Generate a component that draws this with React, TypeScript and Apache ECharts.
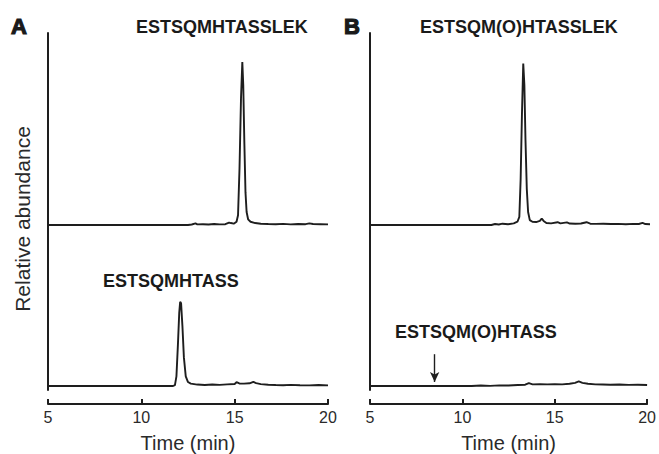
import React, { useEffect, useRef } from "react";
import * as echarts from "echarts";

// Time axis (min)
const timeMin = 5;
const timeMax = 20;
const timeStep = 5;

// Panel A, upper trace: ESTSQMHTASSLEK  [time, relative abundance]
const traceATop: number[][] = [
  [5, 0], [12.5, 0], [12.7, 0.3], [12.9, 1.0], [13.0, 0.4], [13.3, 0.5], [13.6, 0.3],
  [13.9, 0.6], [14.2, 0.4], [14.5, 0.5], [14.7, 1.5], [14.8, 1.2], [14.95, 0.8],
  [15.1, 2], [15.18, 6], [15.26, 35], [15.34, 78], [15.41, 100], [15.46, 86],
  [15.52, 50], [15.58, 20], [15.64, 8], [15.72, 3.5], [15.85, 2], [16.1, 1.2],
  [16.4, 0.8], [16.8, 0.6], [17.2, 0.5], [17.6, 0.7], [18.0, 0.4], [18.4, 0.6],
  [18.8, 0.5], [19.0, 1.0], [19.2, 0.6], [19.6, 0.5], [20, 0.4],
];

// Panel A, lower trace: ESTSQMHTASS
const traceABottom: number[][] = [
  [5, 0], [11.7, 0], [11.8, 0.6], [11.88, 6], [11.96, 26], [12.03, 46], [12.08, 53],
  [12.13, 52], [12.2, 38], [12.28, 18], [12.38, 6], [12.5, 2.5], [12.65, 1.5],
  [13.0, 0.9], [13.4, 0.6], [13.8, 0.9], [14.2, 0.7], [14.6, 1.0], [15.0, 1.3],
  [15.1, 2.4], [15.25, 1.6], [15.5, 1.5], [15.8, 1.7], [16.0, 2.6], [16.15, 1.8],
  [16.4, 1.2], [16.8, 0.8], [17.2, 0.6], [17.6, 0.5], [18.0, 0.7], [18.5, 0.5],
  [19.0, 0.4], [19.5, 0.6], [20, 0.4],
];

// Panel B, upper trace: ESTSQM(O)HTASSLEK
const traceBTop: number[][] = [
  [5, 0], [11.5, 0], [11.7, 0.6], [11.9, 0.3], [12.1, 0.8], [12.4, 0.5], [12.7, 1.0],
  [12.9, 2], [13.0, 5], [13.07, 28], [13.14, 68], [13.21, 99], [13.27, 86],
  [13.33, 52], [13.4, 22], [13.47, 8], [13.56, 3], [13.7, 2], [13.9, 1.8],
  [14.1, 2.5], [14.2, 4], [14.3, 2.5], [14.45, 1.2], [14.7, 1.0], [15.05, 1.7],
  [15.2, 1.0], [15.55, 1.6], [15.7, 0.9], [16.0, 0.8], [16.3, 0.9], [16.6, 1.7],
  [16.8, 0.8], [17.1, 0.7], [17.5, 0.8], [17.9, 0.6], [18.3, 0.7], [18.7, 0.5],
  [19.1, 0.7], [19.4, 0.6], [19.6, 1.3], [19.75, 0.6], [20, 0.5],
];

// Panel B, lower trace: ESTSQM(O)HTASS
const traceBBottom: number[][] = [
  [5, 0], [10.5, 0], [11, 0.3], [11.5, 0.1], [12, 0.4], [12.5, 0.3], [13, 0.6],
  [13.4, 0.8], [13.6, 1.8], [13.8, 1.0], [14.2, 1.1], [14.6, 1.0], [15.0, 1.2],
  [15.4, 1.0], [15.8, 1.4], [16.1, 2.0], [16.3, 2.9], [16.5, 2.0], [16.8, 1.4],
  [17.2, 1.0], [17.6, 0.9], [18, 0.8], [18.5, 0.9], [19, 0.7], [19.5, 0.8], [20, 0.6],
];

// Expected elution time of the missing peptide (arrow)
const arrowTime = 8.5;
const arrowFrom = 20;
const arrowTo = 2.5;

const panelLabels = ["A", "B"];
const peptideLabels = ["ESTSQMHTASSLEK", "ESTSQMHTASS", "ESTSQM(O)HTASSLEK", "ESTSQM(O)HTASS"];
const xAxisName = "Time (min)";
const yAxisName = "Relative abundance";

const INK = "#1e1e1e";
const FONT = "'Liberation Sans', Arial, Helvetica, sans-serif";

export default function App() {
  const ref = useRef<HTMLDivElement>(null);

  useEffect(() => {
    document.body.style.margin = "0";
    if (!ref.current) return;
    const chart = echarts.init(ref.current, null, { renderer: "svg" });

    const panelLeft = [48, 370];
    const plotW = 280;

    const grids: any[] = [];
    const xAxes: any[] = [];
    const yAxes: any[] = [];
    const series: any[] = [];

    const traces = [
      [traceATop, traceABottom],
      [traceBTop, traceBBottom],
    ];

    panelLeft.forEach((left, p) => {
      // frame grid (y axis line)
      const gFrame = grids.length;
      grids.push({ left, width: plotW, top: 33, height: 357 });
      xAxes.push({ gridIndex: gFrame, type: "value", min: timeMin, max: timeMax, show: false });
      yAxes.push({
        gridIndex: gFrame,
        type: "value",
        min: 0,
        max: 1,
        axisLine: { show: true, onZero: false, lineStyle: { color: INK, width: 2 } },
        axisTick: { show: false },
        axisLabel: { show: false },
        splitLine: { show: false },
        name: p === 0 ? yAxisName : "",
        nameLocation: "middle",
        nameGap: 15,
        nameTextStyle: { fontFamily: FONT, fontSize: 21, color: "#2a2a2a", padding: [0, 15, 0, 0] },
      });

      // top trace
      const gTop = grids.length;
      grids.push({ left, width: plotW, top: 62, height: 163 });
      xAxes.push({ gridIndex: gTop, type: "value", min: timeMin, max: timeMax, show: false });
      yAxes.push({ gridIndex: gTop, type: "value", min: 0, max: 100, show: false });
      series.push({
        type: "line",
        xAxisIndex: gTop,
        yAxisIndex: gTop,
        data: traces[p][0],
        showSymbol: false,
        symbol: "none",
        lineStyle: { color: INK, width: 1.9 },
      });

      // bottom trace with time axis
      const gBot = grids.length;
      grids.push({ left, width: plotW, top: 227, height: 163 });
      xAxes.push({
        gridIndex: gBot,
        type: "value",
        min: timeMin,
        max: timeMax,
        interval: timeStep,
        offset: 18,
        axisLine: { show: true, onZero: false, lineStyle: { color: INK, width: 2 } },
        axisTick: { show: true, inside: true, length: 5, lineStyle: { color: INK, width: 2 } },
        axisLabel: {
          show: true,
          fontFamily: FONT,
          fontSize: 16,
          color: "#2a2a2a",
          margin: 5,
          showMinLabel: true,
          showMaxLabel: true,
        },
        splitLine: { show: false },
        name: xAxisName,
        nameLocation: "middle",
        nameGap: 29,
        nameTextStyle: { fontFamily: FONT, fontSize: 20, color: "#2a2a2a" },
      });
      yAxes.push({ gridIndex: gBot, type: "value", min: 0, max: 100, show: false });
      const s: any = {
        type: "line",
        xAxisIndex: gBot,
        yAxisIndex: gBot,
        data: traces[p][1],
        showSymbol: false,
        symbol: "none",
        lineStyle: { color: INK, width: 1.9 },
      };
      if (p === 1) {
        s.markLine = {
          silent: true,
          symbol: ["none", "arrow"],
          symbolSize: [7, 10],
          label: { show: false },
          lineStyle: { color: INK, width: 1.4, type: "solid" },
          data: [[{ coord: [arrowTime, arrowFrom] }, { coord: [arrowTime, arrowTo] }]],
        };
      }
      series.push(s);
    });

    const textStyle = (size: number, weight: any) => ({
      fontFamily: FONT,
      fontSize: size,
      fontWeight: weight,
      fill: "#1a1a1a",
      verticalAlign: "middle",
      align: "left",
    });

    const heavy = { stroke: "#1a1a1a", lineWidth: 1.2 };

    const graphic: any[] = [
      { type: "text", x: 11, y: 26, style: { text: panelLabels[0], ...textStyle(22, "bold"), ...heavy } },
      { type: "text", x: 344, y: 26, style: { text: panelLabels[1], ...textStyle(22, "bold"), ...heavy } },
      { type: "text", x: 136, y: 27, style: { text: peptideLabels[0], ...textStyle(18, "bold") } },
      { type: "text", x: 103, y: 280.5, style: { text: peptideLabels[1], ...textStyle(18, "bold") } },
      { type: "text", x: 420, y: 27, style: { text: peptideLabels[2], ...textStyle(18, "bold") } },
      { type: "text", x: 395, y: 332, style: { text: peptideLabels[3], ...textStyle(18, "bold") } },
    ];

    chart.setOption({
      animation: false,
      backgroundColor: "#ffffff",
      grid: grids,
      xAxis: xAxes,
      yAxis: yAxes,
      series,
      graphic,
    });

    return () => chart.dispose();
  }, []);

  return <div ref={ref} style={{ width: 659, height: 454 }} />;
}
